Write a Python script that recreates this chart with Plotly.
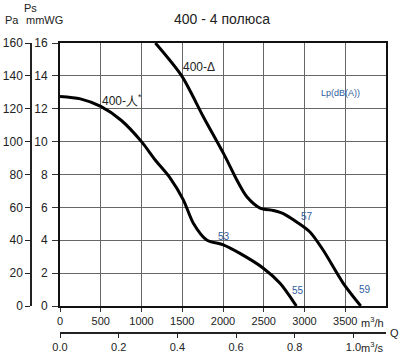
import plotly.graph_objects as go

# ---- data ----
star_q = [0, 250, 500, 750, 1000, 1166, 1350, 1513, 1636, 1800, 2004, 2208, 2495, 2700, 2900]
star_p = [12.75, 12.6, 12.14, 11.3, 10.0, 8.9, 7.8, 6.46, 5.04, 4.02, 3.72, 3.2, 2.3, 1.38, 0.0]
delta_q = [1170, 1493, 1760, 2025, 2168, 2290, 2454, 2617, 2740, 2904, 3067, 3230, 3476, 3690]
delta_p = [16.0, 14.0, 11.5, 9.1, 7.68, 6.66, 5.96, 5.81, 5.62, 5.11, 4.5, 3.39, 1.38, 0.0]
x_ticks = [0, 500, 1000, 1500, 2000, 2500, 3000, 3500]
y_ticks = [0, 2, 4, 6, 8, 10, 12, 14, 16]
pa_ticks = [0, 20, 40, 60, 80, 100, 120, 140, 160]
qs_ticks = [0.0, 0.2, 0.4, 0.6, 0.8, 1.0]
qs_labels = ["0.0", "0.2", "0.4", "0.6", "0.8", "1.0"]
noise_labels = ["53", "55", "57", "59"]
noise_q = [2012, 2920, 3027, 3742]
noise_p = [4.2, 0.97, 5.45, 1.01]

W, H = 400, 357
ml, mr, mt, mb = 20, 14, 43, 8
pw, ph = W - ml - mr, H - mt - mb
plot_left, plot_bottom = 60, 306

def px(x):
    return (x - ml) / pw

def py(y):
    return (H - mb - y) / ph

TXT = "#222222"
BLUE = "#2f5d9e"
GRID = "#666666"
FONT = "Liberation Sans, Arial, sans-serif"

fig = go.Figure()
fig.add_trace(go.Scatter(x=star_q, y=star_p, mode="lines", line=dict(color="black", width=3, shape="spline", smoothing=0.8), hoverinfo="skip", showlegend=False))
fig.add_trace(go.Scatter(x=delta_q, y=delta_p, mode="lines", line=dict(color="black", width=3, shape="spline", smoothing=0.8), hoverinfo="skip", showlegend=False))
# invisible trace to carry secondary axes
fig.add_trace(go.Scatter(x=[q / 3600 for q in star_q], y=[p * 10 for p in star_p], xaxis="x2", yaxis="y2",
                         mode="markers", marker=dict(opacity=0), hoverinfo="skip", showlegend=False))

xdom = [px(plot_left), 1]
ydom = [py(plot_bottom), 1]

fig.update_layout(
    width=W, height=H,
    margin=dict(l=ml, r=mr, t=mt, b=mb, autoexpand=False),
    paper_bgcolor="white", plot_bgcolor="white",
    font=dict(family=FONT, color=TXT, size=12),
    xaxis=dict(domain=xdom, range=[0, 4000], tickvals=x_ticks, ticks="outside", ticklen=4, tickcolor="#333",
               showgrid=True, gridcolor=GRID, gridwidth=1.3, showline=True, linecolor="#111", linewidth=2,
               mirror=True, zeroline=False, tickfont=dict(size=11), fixedrange=True),
    yaxis=dict(domain=ydom, range=[0, 16], tickvals=y_ticks, ticks="outside", ticklen=6, tickcolor="#333",
               showgrid=True, gridcolor=GRID, gridwidth=1.3, showline=True, linecolor="#111", linewidth=2,
               mirror=True, zeroline=False, tickfont=dict(size=12), ticklabelstandoff=2, fixedrange=True),
    yaxis2=dict(domain=ydom, overlaying="y", anchor="free", position=px(31), side="left", range=[0, 160],
                tickvals=pa_ticks, ticks="outside", ticklen=5, tickcolor="#222", showgrid=False,
                showline=True, linecolor="#222", linewidth=1.5, zeroline=False, tickfont=dict(size=12), fixedrange=True),
    xaxis2=dict(domain=xdom, overlaying="x", anchor="free", position=py(333), side="bottom", range=[0, 4000 / 3600],
                tickvals=qs_ticks, ticktext=qs_labels, ticks="outside", ticklen=4, tickcolor="#222",
                showgrid=False, showline=True, linecolor="#222", linewidth=1.5, zeroline=False,
                tickfont=dict(size=11), fixedrange=True),
)

ann = []
def A(text, x, y, size=11, color=TXT, xanchor="center", yanchor="middle", xref="paper", yref="paper"):
    ann.append(dict(text=text, x=x, y=y, xref=xref, yref=yref, showarrow=False, xanchor=xanchor,
                    yanchor=yanchor, font=dict(size=size, color=color, family=FONT)))

A("400 - 4 полюса", px(222), py(19), size=14)
A("Pa", px(12), py(20), size=11)
A("Ps", px(30), py(8), size=11)
A("mmWG", px(44), py(20), size=11)
A("m<sup>3</sup>/h", px(359), py(322), size=11, xanchor="left")
A("m<sup>3</sup>/s", px(359), py(347), size=11, xanchor="left")
A("Q", px(394), py(333), size=11)
A("400-人<sup>*</sup>", 757, 12.55, size=12, xref="x", yref="y")
A("400-Δ", 1705, 14.56, size=12, xref="x", yref="y")
A("Lp(dB(A))", 3436, 12.97, size=9, color=BLUE, xref="x", yref="y")
for t, q, p in zip(noise_labels, noise_q, noise_p):
    A(t, q, p, size=10, color=BLUE, xref="x", yref="y")
fig.update_layout(annotations=ann)

fig.write_html("out.html", config={"displayModeBar": False},
               post_script="document.body.style.margin='0';document.body.style.padding='0';")
